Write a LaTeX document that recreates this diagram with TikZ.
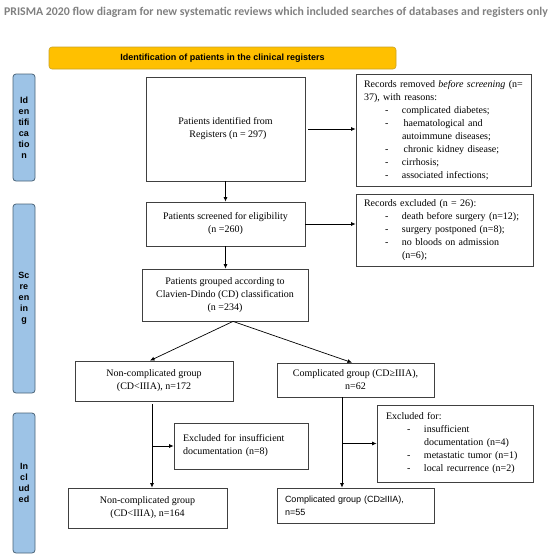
\documentclass[tikz,border=0pt]{standalone}
\usepackage{fontspec}
\setmainfont{Liberation Serif}
\setsansfont{Liberation Sans}
\newfontfamily\titlefont{Carlito}
\usetikzlibrary{arrows.meta}
\definecolor{gold}{HTML}{FFC000}
\definecolor{goldline}{HTML}{C9A227}
\definecolor{barblue}{HTML}{9DC3E6}
\definecolor{barline}{HTML}{4A6478}
\definecolor{boxline}{HTML}{404040}
\definecolor{titlegray}{HTML}{808080}
\newcommand\dashitem[1]{\hspace*{21pt}\makebox[17pt][l]{-}#1}
\newcommand\dashcont[1]{\hspace*{38pt}#1}
\begin{document}
\begin{tikzpicture}[x=1pt,y=-1pt,
 box/.style={draw=boxline, line width=0.8pt, inner sep=0pt, font=\fontsize{10}{13}\selectfont, align=center},
 lbox/.style={box, align=left},
 bar/.style={draw=barline, fill=barblue, rounded corners=3pt, line width=0.8pt, minimum width=22pt, font=\sffamily\bfseries\fontsize{9}{11}\selectfont, align=center, inner sep=0pt},
 arr/.style={-{Latex[length=4.5pt,width=4pt]}, line width=0.7pt, draw=black}]
\useasboundingbox (0,0) rectangle (550,558);

\node[font=\titlefont\bfseries\fontsize{11.8}{14}\selectfont, text=titlegray] (title) at (276,12) {PRISMA 2020 flow diagram for new systematic reviews which included searches of databases and registers only};

\node[draw=goldline, fill=gold, rounded corners=3pt, line width=0.6pt, minimum width=347pt, minimum height=22pt, inner sep=0pt, font=\sffamily\bfseries\fontsize{9}{11}\selectfont] (banner) at (222.5,58) {Identification of patients in the clinical registers};

\node[bar, minimum height=107pt] (barI) at (24,127.5) {Id\\en\\tifi\\ca\\tio\\n};
\node[bar, minimum height=189pt] (barS) at (24,298.5) {Sc\\re\\en\\in\\g};
\node[bar, minimum height=140pt] (barN) at (24,483) {In\\cl\\ud\\ed};

\node[box, minimum width=159pt, minimum height=104pt] (b1) at (225.5,129) {Patients identified from\\ \ \ Registers (n = 297)};
\node[box, minimum width=159pt, minimum height=44pt] (b2) at (225.5,224) {Patients screened for eligibility\\(n =260)};
\node[box, minimum width=166pt, minimum height=52pt] (b3) at (225,295) {Patients grouped according to\\Clavien-Dindo (CD) classification\\(n =234)};
\node[box, minimum width=158pt, minimum height=40pt] (b4) at (154,381) {Non-complicated group\\(CD<IIIA), n=172};
\node[box, minimum width=157pt, minimum height=34pt] (b5) at (355.5,380) {Complicated group (CD≥IIIA),\\n=62};
\node[lbox, text width=116pt, minimum width=134pt, minimum height=46pt] (b6) at (241,446) {Excluded for insufficient\\documentation (n=8)};
\node[lbox, text width=141pt, minimum width=157pt, minimum height=35pt, font=\sffamily\fontsize{9}{13}\selectfont] (b7) at (355.5,505.5) {Complicated group (CD≥IIIA),\\n=55};
\node[box, minimum width=159pt, minimum height=40pt] (b8) at (147.5,508) {Non-complicated group\\(CD<IIIA), n=164};

\node[lbox, text width=159pt, minimum width=175pt, minimum height=112pt] (rem) at (443.5,130) {Records removed \textit{before screening} (n=\\37), with reasons:\\
\dashitem{complicated diabetes;}\\
\dashitem{\,haematological and}\\
\dashcont{autoimmune diseases;}\\
\dashitem{\,chronic kidney disease;}\\
\dashitem{cirrhosis;}\\
\dashitem{associated infections;}};
\node[lbox, text width=161pt, minimum width=177pt, minimum height=72pt] (exc) at (444.5,230) {Records excluded (n = 26):\\
\dashitem{death before surgery (n=12);}\\
\dashitem{surgery postponed (n=8);}\\
\dashitem{no bloods on admission}\\
\dashcont{(n=6);}};
\node[lbox, text width=138pt, minimum width=156pt, minimum height=77pt] (exc3) at (455,443.5) {Excluded for:\\
\dashitem{insufficient}\\
\dashcont{documentation (n=4)}\\
\dashitem{metastatic tumor (n=1)}\\
\dashitem{local recurrence (n=2)}};

\draw[arr] (b1) -- (b2);
\draw[arr] ([xshift=3pt]b1.east) -- (b1.east -| rem.west);
\draw[arr] (b2.east) -- (b2.east -| exc.west);
\draw[arr] (b2.south) -- (b2.south |- b3.north);
\coordinate (split) at ([xshift=8pt]b3.south);
\draw[arr] (split) -- ([xshift=-4pt]b4.north);
\draw[arr] (split) -- ([xshift=-3.5pt]b5.north);
\coordinate (s4) at ([xshift=-2pt,yshift=-3pt]b4.south);
\draw[arr] (s4) -- (s4 |- b8.north);
\draw[arr] (s4 |- b6.west) -- (b6.west);
\coordinate (s5) at ([xshift=-13.5pt]b5.south);
\draw[arr] (s5) -- (s5 |- b7.north);
\draw[arr] (s5 |- exc3.west) -- (exc3.west);
\end{tikzpicture}
\end{document}
